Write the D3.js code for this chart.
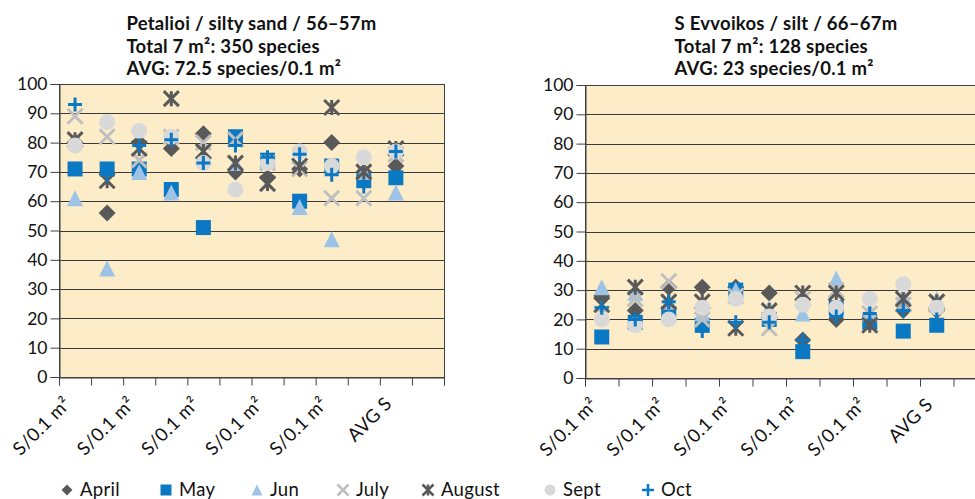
<!DOCTYPE html>
<html>
<head>
<meta charset="utf-8">
<script src="https://cdn.jsdelivr.net/npm/d3@7"></script>
<style>
  html, body { margin: 0; padding: 0; background: #ffffff; }
  svg { display: block; font-family: Lato, "Open Sans", sans-serif; }
</style>
</head>
<body>
<svg id="chart" width="975" height="499"></svg>
<script>
// ---------- DATA ----------
const categories = ["S/0.1 m²", "S/0.1 m²", "S/0.1 m²", "S/0.1 m²", "S/0.1 m²",
                    "S/0.1 m²", "S/0.1 m²", "S/0.1 m²", "S/0.1 m²", "S/0.1 m²", "AVG S", ""];
const tickLabels = ["S/0.1 m²", "", "S/0.1 m²", "", "S/0.1 m²", "", "S/0.1 m²", "", "S/0.1 m²", "", "AVG S", ""];
const yTicks = [0, 10, 20, 30, 40, 50, 60, 70, 80, 90, 100];
const seriesNames = ["April", "May", "Jun", "July", "August", "Sept", "Oct"];

const leftTitle = ["Petalioi / silty sand / 56–57m", "Total 7 m²: 350 species", "AVG: 72.5 species/0.1 m²"];
const rightTitle = ["S Evvoikos / silt / 66–67m", "Total 7 m²: 128 species", "AVG: 23 species/0.1 m²"];

// Petalioi (left)
const petApril  = [80, 56, 80, 78, 83, 70, 68, 71, 80, 70, 72];
const petMay    = [71, 71, 71, 64, 51, 82, 74, 60, 72, 67, 68];
const petJun    = [61, 37, 70, 63, 75, 73, 74, 58, 47, 70, 63];
const petJuly   = [89, 82, 74, 82, 80, 81, 73, 71, 61, 61, 76];
const petAugust = [81, 67, 78, 95, 77, 73, 66, 72, 92, 70, 78];
const petSept   = [79, 87, 84, 82, 73, 64, 73, 77, 72, 75, 77];
const petOct    = [93, 69, 79, 81, 73, 79, 75, 76, 69, 65, 77];

// S Evvoikos (right)
const evvApril  = [28, 23, 31, 31, 31, 29, 13, 20, 20, 23, 23];
const evvMay    = [14, 19, 22, 18, 30, 20, 9, 24, 19, 16, 18];
const evvJun    = [31, 29, 26, 22, 30, 24, 22, 34, 23, 28, 27];
const evvJuly   = [22, 27, 33, 20, 28, 17, 27, 30, 22, 25, 26];
const evvAugust = [25, 31, 26, 26, 17, 23, 29, 29, 18, 27, 26];
const evvSept   = [20, 18, 20, 24, 27, 21, 25, 24, 27, 32, 24];
const evvOct    = [24, 20, 26, 16, 19, 19, 13, 21, 22, 23, 20];

// ---------- STYLE ----------
const styles = {
  April:  { shape: "diamond",  color: "#595959" },
  May:    { shape: "square",   color: "#0A78C2" },
  Jun:    { shape: "triangle", color: "#9DC3E6" },
  July:   { shape: "x",        color: "#BFBFBF" },
  August: { shape: "star",     color: "#595959" },
  Sept:   { shape: "circle",   color: "#D9D9D9" },
  Oct:    { shape: "plus",     color: "#0A78C2" }
};

function markerPath(shape, r) {
  switch (shape) {
    case "diamond":  return `M0,${-r}L${r},0L0,${r}L${-r},0Z`;
    case "square":   return `M${-r},${-r}H${r}V${r}H${-r}Z`;
    case "triangle": return `M0,${-r}L${r},${r}L${-r},${r}Z`;
    case "x":        return `M${-r},${-r}L${r},${r}M${r},${-r}L${-r},${r}`;
    case "star":     return `M${-r},${-r}L${r},${r}M${r},${-r}L${-r},${r}M0,${-r}L0,${r}`;
    case "plus":     return `M${-r},0L${r},0M0,${-r}L0,${r}`;
    case "circle":   return `M${r},0A${r},${r},0,1,1,${-r},0A${r},${r},0,1,1,${r},0Z`;
  }
}
const isStroke = s => s === "x" || s === "star" || s === "plus";
const plotSize = { diamond: 8.5, square: 7.5, triangle: 8, x: 7.5, star: 7.5, plus: 7, circle: 8 };
const legSize  = { diamond: 5.5, square: 5.5, triangle: 5.5, x: 5.5, star: 5.5, plus: 6, circle: 5.5 };

function drawMarker(g, shape, color, x, y, r, sw) {
  const p = g.append("path").attr("d", markerPath(shape, r)).attr("transform", `translate(${x},${y})`);
  if (isStroke(shape)) p.attr("fill", "none").attr("stroke", color).attr("stroke-width", sw);
  else p.attr("fill", color);
}

const svg = d3.select("#chart");

function drawChart(cfg) {
  const { x0, x1, top, bottom, title, data } = cfg;
  const g = svg.append("g");
  const x = d3.scaleLinear().domain([0, categories.length]).range([x0, x1]);
  const y = d3.scaleLinear().domain([0, 100]).range([bottom, top]);

  g.append("rect").attr("x", x0).attr("y", top).attr("width", x1 - x0).attr("height", bottom - top)
    .attr("fill", "#FDECC8");

  g.append("g").selectAll("line").data(yTicks.filter(v => v > 0 && v < 100)).join("line")
    .attr("x1", x0).attr("x2", x1)
    .attr("y1", d => Math.round(y(d)) + 0.5).attr("y2", d => Math.round(y(d)) + 0.5)
    .attr("stroke", "#3a3a3a").attr("stroke-width", 1);

  g.append("rect").attr("x", x0 + 0.5).attr("y", Math.round(top) + 0.5)
    .attr("width", x1 - x0).attr("height", bottom - top)
    .attr("fill", "none").attr("stroke", "#404040").attr("stroke-width", 1);

  const yAxis = g.append("g").attr("transform", `translate(${x0 + 0.5},0)`)
    .call(d3.axisLeft(y).tickValues(yTicks).tickSize(9).tickPadding(3).tickFormat(d3.format("d")));
  yAxis.select(".domain").attr("stroke", "#404040");
  yAxis.selectAll(".tick line").attr("stroke", "#404040");
  yAxis.selectAll("text").attr("font-size", 17.5).attr("fill", "#111").attr("font-family", "Lato, sans-serif");

  const xAxis = g.append("g").attr("transform", `translate(0,${Math.round(bottom) + 0.5})`)
    .call(d3.axisBottom(x).tickValues(d3.range(0, categories.length + 1)).tickSize(8).tickFormat(""));
  xAxis.select(".domain").attr("stroke", "#404040");
  xAxis.selectAll(".tick line").attr("stroke", "#404040");

  g.append("g").selectAll("text").data(tickLabels.map((t, i) => ({ t, i })).filter(d => d.t !== ""))
    .join("text")
    .attr("transform", d => `translate(${x(d.i + 0.5) - 3},${bottom + 28}) rotate(-45)`)
    .attr("text-anchor", "end")
    .attr("font-size", 18.5).attr("letter-spacing", 0.3).attr("fill", "#111")
    .text(d => d.t);

  seriesNames.forEach((name, si) => {
    const st = styles[name];
    const sg = g.append("g");
    data[si].forEach((v, i) => {
      drawMarker(sg, st.shape, st.color, x(i + 0.5), y(v), plotSize[st.shape], 3);
    });
  });

  const tg = g.append("g");
  const texts = tg.selectAll("text").data(title).join("text")
    .attr("y", (d, i) => 30 + i * 22.5)
    .attr("font-size", 18.5).attr("letter-spacing", 0.25).attr("font-weight", 700).attr("fill", "#111")
    .text(d => d);
  let maxW = 0;
  texts.each(function () { maxW = Math.max(maxW, this.getComputedTextLength()); });
  texts.attr("x", (x0 + x1) / 2 - maxW / 2);
}

drawChart({
  x0: 59, x1: 444, top: 84, bottom: 377, title: leftTitle,
  data: [petApril, petMay, petJun, petJuly, petAugust, petSept, petOct]
});
drawChart({
  x0: 585, x1: 987, top: 85, bottom: 378, title: rightTitle,
  data: [evvApril, evvMay, evvJun, evvJuly, evvAugust, evvSept, evvOct]
});

const legendX = [67, 166, 257, 343, 428, 550, 648];
const lg = svg.append("g");
seriesNames.forEach((name, i) => {
  const st = styles[name];
  drawMarker(lg, st.shape, st.color, legendX[i], 490, legSize[st.shape], 2.5);
  lg.append("text").attr("x", legendX[i] + 13).attr("y", 496)
    .attr("font-size", 18.5).attr("letter-spacing", 0.3).attr("fill", "#111").text(name);
});
</script>
</body>
</html>
